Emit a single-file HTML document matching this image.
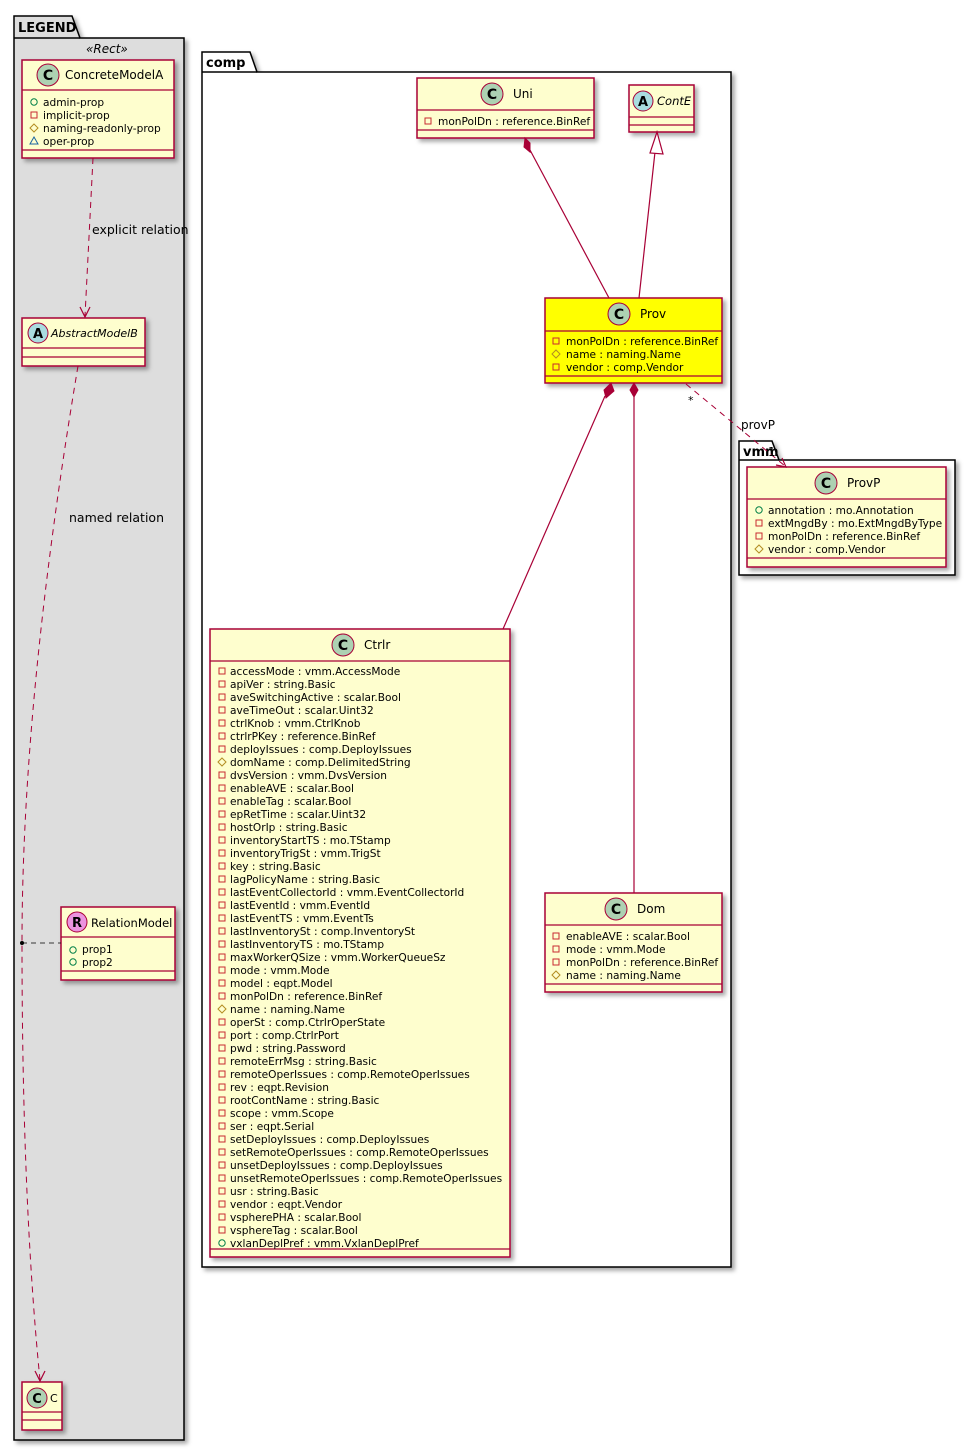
<!DOCTYPE html>
<html><head><meta charset="utf-8">
<style>
html,body{margin:0;padding:0;background:#fff;}
svg{display:block;font-family:"DejaVu Sans","Liberation Sans",sans-serif;}
.a{font-size:10.6px;fill:#000;}
.n{font-size:12px;fill:#000;}
.box{fill:#FEFECE;stroke:#A80036;stroke-width:1.5;}
.ln{stroke:#A80036;stroke-width:1.2;fill:none;}
.dl{stroke:#A80036;stroke-width:1;fill:none;stroke-dasharray:6,5;}
.pk{stroke:#000;stroke-width:1.5;}
</style></head><body>
<svg width="976" height="1449" viewBox="0 0 976 1449" xmlns="http://www.w3.org/2000/svg">
<defs>
<filter id="sh" x="-10%" y="-10%" width="130%" height="130%"><feDropShadow dx="3" dy="3" stdDeviation="2" flood-color="#000" flood-opacity="0.35"/></filter>
<g id="priv"><rect x="-3" y="-3" width="6" height="6" fill="none" stroke="#C82930" stroke-width="1"/></g>
<g id="prot"><polygon points="0,-4 4,0 0,4 -4,0" fill="none" stroke="#B38D22" stroke-width="1"/></g>
<g id="pub"><circle r="3.2" fill="none" stroke="#038048" stroke-width="1"/></g>
<g id="pkg"><polygon points="0,-4 4,3 -4,3" fill="none" stroke="#1963A0" stroke-width="1"/></g>
</defs>

<!-- LEGEND package -->
<polygon points="14,16 72,16 80,38 184,38 184,1440 14,1440" fill="#DDDDDD" class="pk" filter="url(#sh)"/>
<line x1="14" y1="38" x2="80" y2="38" class="pk"/>
<text x="18" y="32" font-weight="bold" font-size="13">LEGEND</text>
<text x="86" y="53" font-size="12" font-style="italic">«Rect»</text>

<!-- comp package -->
<polygon points="202,52 250,52 257,72 731,72 731,1267 202,1267" fill="#fff" class="pk" filter="url(#sh)"/>
<line x1="202" y1="72" x2="257" y2="72" class="pk"/>
<text x="206" y="67" font-weight="bold" font-size="13">comp</text>

<!-- vmm package -->
<polygon points="739,441 772,441 779,460 955,460 955,575 739,575" fill="#fff" class="pk" filter="url(#sh)"/>
<line x1="739" y1="460" x2="779" y2="460" class="pk"/>
<text x="743" y="456" font-weight="bold" font-size="13">vmm</text>

<!-- ConcreteModelA -->
<g filter="url(#sh)"><rect x="22" y="60" width="152" height="98" class="box"/></g>
<line x1="22" y1="90" x2="174" y2="90" class="ln"/><line x1="22" y1="150" x2="174" y2="150" class="ln"/>
<circle cx="48" cy="75" r="11" fill="#ADD1B2" stroke="#A80036"/><text x="48" y="80" text-anchor="middle" font-weight="bold" font-size="14">C</text>
<text x="65" y="79" class="n">ConcreteModelA</text>
<use href="#pub" x="34" y="102"/><text x="43" y="106" class="a">admin-prop</text>
<use href="#priv" x="34" y="115"/><text x="43" y="119" class="a">implicit-prop</text>
<use href="#prot" x="34" y="128"/><text x="43" y="132" class="a">naming-readonly-prop</text>
<use href="#pkg" x="34" y="141"/><text x="43" y="145" class="a">oper-prop</text>

<!-- AbstractModelB -->
<g filter="url(#sh)"><rect x="22" y="318" width="123" height="48" class="box"/></g>
<line x1="22" y1="348" x2="145" y2="348" class="ln"/><line x1="22" y1="357" x2="145" y2="357" class="ln"/>
<circle cx="38" cy="333" r="10" fill="#A9DCDF" stroke="#A80036"/><text x="38" y="338" text-anchor="middle" font-weight="bold" font-size="13">A</text>
<text x="51" y="337" style="font-size:11px;font-style:italic">AbstractModelB</text>

<!-- RelationModel -->
<g filter="url(#sh)"><rect x="61" y="907" width="114" height="73" class="box"/></g>
<line x1="61" y1="937" x2="175" y2="937" class="ln"/><line x1="61" y1="971" x2="175" y2="971" class="ln"/>
<circle cx="77" cy="922" r="10" fill="#EB93DF" stroke="#A80036"/><text x="77" y="927" text-anchor="middle" font-weight="bold" font-size="13">R</text>
<text x="91" y="927" style="font-size:11.5px">RelationModel</text>
<use href="#pub" x="73" y="950"/><text x="82" y="953" class="a">prop1</text>
<use href="#pub" x="73" y="962"/><text x="82" y="966" class="a">prop2</text>

<!-- C -->
<g filter="url(#sh)"><rect x="22" y="1382" width="40" height="48" class="box"/></g>
<line x1="22" y1="1412" x2="62" y2="1412" class="ln"/><line x1="22" y1="1420" x2="62" y2="1420" class="ln"/>
<circle cx="37" cy="1398" r="10" fill="#ADD1B2" stroke="#A80036"/><text x="37" y="1403" text-anchor="middle" font-weight="bold" font-size="13">C</text>
<text x="50" y="1402" style="font-size:11px">C</text>

<!-- legend edges -->
<path d="M93,158 L85,316" class="dl"/>
<polyline points="80,307 85,317 90,307" class="ln"/>
<text x="92" y="234" style="font-size:12.5px">explicit relation</text>
<path d="M78,366 Q22,700 22,943 Q22,1200 40,1380" class="dl"/>
<polyline points="35,1371 40,1381 45,1371" class="ln"/>
<circle cx="22" cy="943" r="2" fill="#000"/>
<line x1="22" y1="943" x2="61" y2="943" stroke="#000" stroke-width="0.8" stroke-dasharray="5,4"/>
<text x="69" y="522" style="font-size:12.5px">named relation</text>

<!-- Uni -->
<g filter="url(#sh)"><rect x="417" y="78" width="177" height="60" class="box"/></g>
<line x1="417" y1="110" x2="594" y2="110" class="ln"/><line x1="417" y1="130" x2="594" y2="130" class="ln"/>
<circle cx="492" cy="94" r="11" fill="#ADD1B2" stroke="#A80036"/><text x="492" y="99" text-anchor="middle" font-weight="bold" font-size="14">C</text>
<text x="513" y="98" class="n">Uni</text>
<use href="#priv" x="428" y="121"/><text x="438" y="125" class="a">monPolDn : reference.BinRef</text>

<!-- ContE -->
<g filter="url(#sh)"><rect x="629" y="85" width="65" height="47" class="box"/></g>
<line x1="629" y1="117" x2="694" y2="117" class="ln"/><line x1="629" y1="125" x2="694" y2="125" class="ln"/>
<circle cx="643" cy="101" r="10" fill="#A9DCDF" stroke="#A80036"/><text x="643" y="106" text-anchor="middle" font-weight="bold" font-size="13">A</text>
<text x="657" y="105" style="font-size:11.5px;font-style:italic">ContE</text>

<!-- Prov -->
<g filter="url(#sh)"><rect x="545" y="298" width="177" height="85" fill="#FFFF00" stroke="#A80036" stroke-width="1.5"/></g>
<line x1="545" y1="331" x2="722" y2="331" class="ln"/><line x1="545" y1="376" x2="722" y2="376" class="ln"/>
<circle cx="619" cy="314" r="11" fill="#ADD1B2" stroke="#A80036"/><text x="619" y="319" text-anchor="middle" font-weight="bold" font-size="14">C</text>
<text x="640" y="318" class="n">Prov</text>
<use href="#priv" x="556" y="341"/><text x="566" y="345" class="a">monPolDn : reference.BinRef</text>
<use href="#prot" x="556" y="354"/><text x="566" y="358" class="a">name : naming.Name</text>
<use href="#priv" x="556" y="367"/><text x="566" y="371" class="a">vendor : comp.Vendor</text>

<!-- ProvP -->
<g filter="url(#sh)"><rect x="747" y="467" width="199" height="100" class="box"/></g>
<line x1="747" y1="499" x2="946" y2="499" class="ln"/><line x1="747" y1="558" x2="946" y2="558" class="ln"/>
<circle cx="826" cy="483" r="11" fill="#ADD1B2" stroke="#A80036"/><text x="826" y="488" text-anchor="middle" font-weight="bold" font-size="14">C</text>
<text x="847" y="487" class="n">ProvP</text>
<use href="#pub" x="759" y="510"/><text x="768" y="514" class="a">annotation : mo.Annotation</text>
<use href="#priv" x="759" y="523"/><text x="768" y="527" class="a">extMngdBy : mo.ExtMngdByType</text>
<use href="#priv" x="759" y="536"/><text x="768" y="540" class="a">monPolDn : reference.BinRef</text>
<use href="#prot" x="759" y="549"/><text x="768" y="553" class="a">vendor : comp.Vendor</text>

<!-- Dom -->
<g filter="url(#sh)"><rect x="545" y="893" width="177" height="99" class="box"/></g>
<line x1="545" y1="925" x2="722" y2="925" class="ln"/><line x1="545" y1="984" x2="722" y2="984" class="ln"/>
<circle cx="616" cy="909" r="11" fill="#ADD1B2" stroke="#A80036"/><text x="616" y="914" text-anchor="middle" font-weight="bold" font-size="14">C</text>
<text x="637" y="913" class="n">Dom</text>
<use href="#priv" x="556" y="936"/><text x="566" y="940" class="a">enableAVE : scalar.Bool</text>
<use href="#priv" x="556" y="949"/><text x="566" y="953" class="a">mode : vmm.Mode</text>
<use href="#priv" x="556" y="962"/><text x="566" y="966" class="a">monPolDn : reference.BinRef</text>
<use href="#prot" x="556" y="975"/><text x="566" y="979" class="a">name : naming.Name</text>

<!-- Ctrlr -->
<g filter="url(#sh)"><rect x="210" y="629" width="300" height="628" class="box"/></g>
<line x1="210" y1="661" x2="510" y2="661" class="ln"/><line x1="210" y1="1249" x2="510" y2="1249" class="ln"/>
<circle cx="343" cy="645" r="11" fill="#ADD1B2" stroke="#A80036"/><text x="343" y="650" text-anchor="middle" font-weight="bold" font-size="14">C</text>
<text x="364" y="649" class="n">Ctrlr</text>
<g class="a">
<use href="#priv" x="222" y="671"/><text x="230" y="675">accessMode : vmm.AccessMode</text>
<use href="#priv" x="222" y="684"/><text x="230" y="688">apiVer : string.Basic</text>
<use href="#priv" x="222" y="697"/><text x="230" y="701">aveSwitchingActive : scalar.Bool</text>
<use href="#priv" x="222" y="710"/><text x="230" y="714">aveTimeOut : scalar.Uint32</text>
<use href="#priv" x="222" y="723"/><text x="230" y="727">ctrlKnob : vmm.CtrlKnob</text>
<use href="#priv" x="222" y="736"/><text x="230" y="740">ctrlrPKey : reference.BinRef</text>
<use href="#priv" x="222" y="749"/><text x="230" y="753">deployIssues : comp.DeployIssues</text>
<use href="#prot" x="222" y="762"/><text x="230" y="766">domName : comp.DelimitedString</text>
<use href="#priv" x="222" y="775"/><text x="230" y="779">dvsVersion : vmm.DvsVersion</text>
<use href="#priv" x="222" y="788"/><text x="230" y="792">enableAVE : scalar.Bool</text>
<use href="#priv" x="222" y="801"/><text x="230" y="805">enableTag : scalar.Bool</text>
<use href="#priv" x="222" y="814"/><text x="230" y="818">epRetTime : scalar.Uint32</text>
<use href="#priv" x="222" y="827"/><text x="230" y="831">hostOrIp : string.Basic</text>
<use href="#priv" x="222" y="840"/><text x="230" y="844">inventoryStartTS : mo.TStamp</text>
<use href="#priv" x="222" y="853"/><text x="230" y="857">inventoryTrigSt : vmm.TrigSt</text>
<use href="#priv" x="222" y="866"/><text x="230" y="870">key : string.Basic</text>
<use href="#priv" x="222" y="879"/><text x="230" y="883">lagPolicyName : string.Basic</text>
<use href="#priv" x="222" y="892"/><text x="230" y="896">lastEventCollectorId : vmm.EventCollectorId</text>
<use href="#priv" x="222" y="905"/><text x="230" y="909">lastEventId : vmm.EventId</text>
<use href="#priv" x="222" y="918"/><text x="230" y="922">lastEventTS : vmm.EventTs</text>
<use href="#priv" x="222" y="931"/><text x="230" y="935">lastInventorySt : comp.InventorySt</text>
<use href="#priv" x="222" y="944"/><text x="230" y="948">lastInventoryTS : mo.TStamp</text>
<use href="#priv" x="222" y="957"/><text x="230" y="961">maxWorkerQSize : vmm.WorkerQueueSz</text>
<use href="#priv" x="222" y="970"/><text x="230" y="974">mode : vmm.Mode</text>
<use href="#priv" x="222" y="983"/><text x="230" y="987">model : eqpt.Model</text>
<use href="#priv" x="222" y="996"/><text x="230" y="1000">monPolDn : reference.BinRef</text>
<use href="#prot" x="222" y="1009"/><text x="230" y="1013">name : naming.Name</text>
<use href="#priv" x="222" y="1022"/><text x="230" y="1026">operSt : comp.CtrlrOperState</text>
<use href="#priv" x="222" y="1035"/><text x="230" y="1039">port : comp.CtrlrPort</text>
<use href="#priv" x="222" y="1048"/><text x="230" y="1052">pwd : string.Password</text>
<use href="#priv" x="222" y="1061"/><text x="230" y="1065">remoteErrMsg : string.Basic</text>
<use href="#priv" x="222" y="1074"/><text x="230" y="1078">remoteOperIssues : comp.RemoteOperIssues</text>
<use href="#priv" x="222" y="1087"/><text x="230" y="1091">rev : eqpt.Revision</text>
<use href="#priv" x="222" y="1100"/><text x="230" y="1104">rootContName : string.Basic</text>
<use href="#priv" x="222" y="1113"/><text x="230" y="1117">scope : vmm.Scope</text>
<use href="#priv" x="222" y="1126"/><text x="230" y="1130">ser : eqpt.Serial</text>
<use href="#priv" x="222" y="1139"/><text x="230" y="1143">setDeployIssues : comp.DeployIssues</text>
<use href="#priv" x="222" y="1152"/><text x="230" y="1156">setRemoteOperIssues : comp.RemoteOperIssues</text>
<use href="#priv" x="222" y="1165"/><text x="230" y="1169">unsetDeployIssues : comp.DeployIssues</text>
<use href="#priv" x="222" y="1178"/><text x="230" y="1182">unsetRemoteOperIssues : comp.RemoteOperIssues</text>
<use href="#priv" x="222" y="1191"/><text x="230" y="1195">usr : string.Basic</text>
<use href="#priv" x="222" y="1204"/><text x="230" y="1208">vendor : eqpt.Vendor</text>
<use href="#priv" x="222" y="1217"/><text x="230" y="1221">vspherePHA : scalar.Bool</text>
<use href="#priv" x="222" y="1230"/><text x="230" y="1234">vsphereTag : scalar.Bool</text>
<use href="#pub" x="222" y="1243"/><text x="230" y="1247">vxlanDeplPref : vmm.VxlanDeplPref</text>
</g>

<!-- comp edges -->
<line x1="530" y1="150" x2="609" y2="298" class="ln"/>
<polygon points="525,138 530,143 530,152 524,147" fill="#A80036" stroke="#A80036"/>
<line x1="655" y1="152" x2="639" y2="298" class="ln"/>
<polygon points="657,132 650,153 663,154" fill="#fff" stroke="#A80036" stroke-width="1.2"/>
<line x1="605" y1="396" x2="503" y2="629" class="ln"/>
<polygon points="611,383 614,391 606,398 604,390" fill="#A80036" stroke="#A80036"/>
<line x1="634" y1="397" x2="634" y2="893" class="ln"/>
<polygon points="634,383 638,390 634,397 630,390" fill="#A80036" stroke="#A80036"/>
<line x1="686" y1="384" x2="785" y2="466" class="dl"/>
<polyline points="776,465 786,467 782,458" class="ln"/>
<text x="688" y="404" font-size="11">*</text>
<text x="741" y="429" font-size="12">provP</text>
<text x="768" y="456" font-size="12">1</text>
</svg>
</body></html>
